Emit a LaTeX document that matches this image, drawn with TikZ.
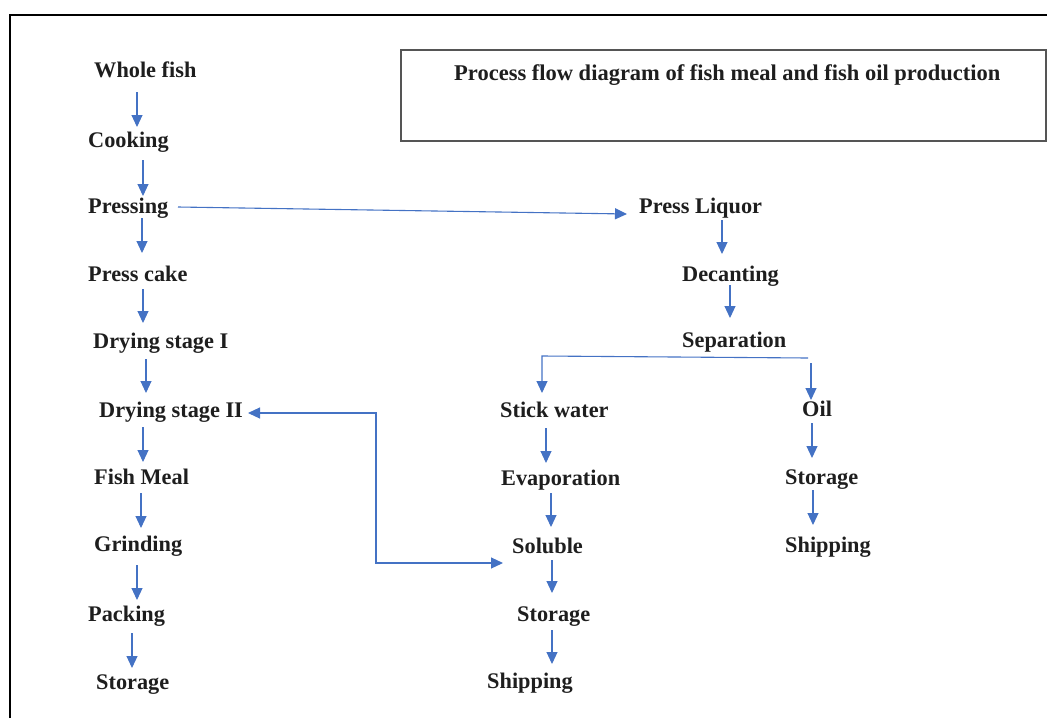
\documentclass[tikz,border=0pt]{standalone}
\usepackage{fontspec}
\setmainfont{Liberation Serif}
\usetikzlibrary{arrows.meta,calc}
\definecolor{txt}{HTML}{1E1E1E}
\definecolor{arrblue}{HTML}{4472C4}
\definecolor{boxgray}{HTML}{555555}
\tikzset{
  lbl/.style={anchor=base west, inner sep=0pt, text=txt, font=\fontsize{22.3}{26}\selectfont\bfseries},
  ttl/.style={lbl, font=\fontsize{22.5}{26}\selectfont\bfseries},
  arr/.style={draw=arrblue, line width=1.1pt, -{Triangle[length=12pt,width=11pt]}},
  darr/.style={draw=arrblue, line width=1.1pt, {Triangle[length=12pt,width=11pt]}-{Triangle[length=12pt,width=11pt]}},
  frame/.style={draw=black, line width=2pt},
  titlebox/.style={draw=boxgray, line width=1.2pt}
}
\begin{document}
\begin{tikzpicture}[x=1pt,y=-1pt]
\useasboundingbox (0,0) rectangle (1047,718);
% outer frame (partially visible)
\draw[frame] (9.5,718) -- (9.5,15) -- (1047,15);
% title box
\draw[titlebox] (401,50) rectangle (1046,141);
\node[ttl] (title) at (454,80) {Process flow diagram of fish meal and fish oil production};

% left column
\node[lbl] (wf) at (94,77) {Whole fish};
\node[lbl] (ck) at (88,147) {Cooking};
\node[lbl] (ps) at (88,213) {Pressing};
\node[lbl] (pc) at (88,281) {Press cake};
\node[lbl] (d1) at (93,348) {Drying stage I};
\node[lbl] (d2) at (99,417) {Drying stage II};
\node[lbl] (fm) at (94,484) {Fish Meal};
\node[lbl] (gr) at (94,551) {Grinding};
\node[lbl] (pk) at (88,621) {Packing};
\node[lbl] (st1) at (96,689) {Storage};

% middle column
\node[lbl] (pl) at (639,213) {Press Liquor};
\node[lbl] (dc) at (682,281) {Decanting};
\node[lbl] (sp) at (682,347) {Separation};
\node[lbl] (sw) at (500,417) {Stick water};
\node[lbl] (ev) at (501,485) {Evaporation};
\node[lbl] (so) at (512,553) {Soluble};
\node[lbl] (st2) at (517,621) {Storage};
\node[lbl] (sh2) at (487,688) {Shipping};

% right column
\node[lbl] (oil) at (802,416) {Oil};
\node[lbl] (st3) at (785,484) {Storage};
\node[lbl] (sh3) at (785,552) {Shipping};

% left column arrows
\draw[arr] ($(wf.base west -| 137,0)+(0,15)$) -- ($(ck.base west -| 137,0)+(0,-20)$);
\draw[arr] ($(ck.base west -| 143,0)+(0,13)$) -- ($(ps.base west -| 143,0)+(0,-17)$);
\draw[arr] ($(ps.base west -| 142,0)+(0,5)$) -- ($(pc.base west -| 142,0)+(0,-28)$);
\draw[arr] ($(pc.base west -| 143,0)+(0,8)$) -- ($(d1.base west -| 143,0)+(0,-25)$);
\draw[arr] ($(d1.base west -| 146,0)+(0,11)$) -- ($(d2.base west -| 146,0)+(0,-24)$);
\draw[arr] ($(d2.base west -| 143,0)+(0,10)$) -- ($(fm.base west -| 143,0)+(0,-22)$);
\draw[arr] ($(fm.base west -| 141,0)+(0,9)$) -- ($(gr.base west -| 141,0)+(0,-23)$);
\draw[arr] ($(gr.base west -| 137,0)+(0,14)$) -- ($(pk.base west -| 137,0)+(0,-21)$);
\draw[arr] ($(pk.base west -| 132,0)+(0,12)$) -- ($(st1.base west -| 132,0)+(0,-21)$);

% pressing -> press liquor
\draw[arr] ($(ps.base west)+(90,-6)$) -- ($(pl.base west)+(-12,1)$);

% middle column arrows
\draw[arr] ($(pl.base west -| 722,0)+(0,7)$) -- ($(dc.base west -| 722,0)+(0,-27)$);
\draw[arr] ($(dc.base west -| 730,0)+(0,4)$) -- ($(sp.base west -| 730,0)+(0,-29)$);
% separation split
\draw[arr] ($(sp.base west -| 808,0)+(0,11)$) -- ($(sp.base west -| 542,0)+(0,9)$) -- ($(sw.base west -| 542,0)+(0,-24)$);
\draw[arr] ($(sp.base west -| 811,0)+(0,16)$) -- ($(oil.base west -| 811,0)+(0,-16)$);
\draw[arr] ($(sw.base west -| 546,0)+(0,11)$) -- ($(ev.base west -| 546,0)+(0,-22)$);
\draw[arr] ($(ev.base west -| 551,0)+(0,8)$) -- ($(so.base west -| 551,0)+(0,-26)$);
\draw[arr] ($(so.base west -| 552,0)+(0,7)$) -- ($(st2.base west -| 552,0)+(0,-28)$);
\draw[arr] ($(st2.base west -| 552,0)+(0,9)$) -- ($(sh2.base west -| 552,0)+(0,-24)$);

% right column arrows
\draw[arr] ($(oil.base west -| 812,0)+(0,7)$) -- ($(st3.base west -| 812,0)+(0,-26)$);
\draw[arr] ($(st3.base west -| 813,0)+(0,6)$) -- ($(sh3.base west -| 813,0)+(0,-27)$);

% feedback loop soluble <-> drying stage II
\draw[darr] ($(so.base west)+(-9,10)$) -- ($(so.base west -| 376,0)+(0,10)$) -- ($(d2.base west -| 376,0)+(0,-4)$) -- ($(d2.base west)+(149,-4)$);
\end{tikzpicture}
\end{document}
